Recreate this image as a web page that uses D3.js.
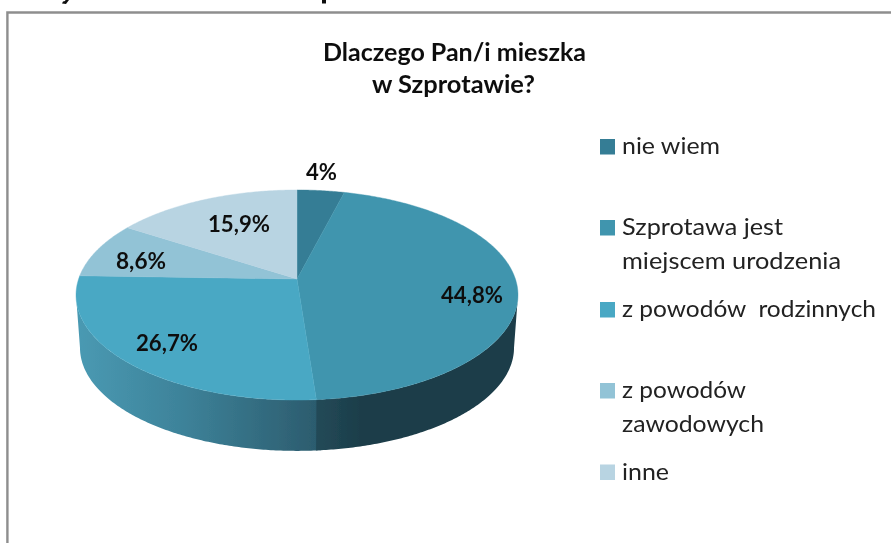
<!DOCTYPE html>
<html><head><meta charset="utf-8">
<script src="https://cdn.jsdelivr.net/npm/d3@7"></script>
<style>html,body{margin:0;padding:0;background:#fff;overflow:hidden}svg{display:block}text{font-family:Lato,"Noto Sans",sans-serif}</style>
</head><body><svg id="c" width="891" height="543"></svg>
<script>
const titleLines = ["Dlaczego Pan/i mieszka","w Szprotawie?"];
const categories = ["nie wiem","Szprotawa jest miejscem urodzenia","z powodów rodzinnych","z powodów zawodowych","inne"];
const values = [4,44.8,26.7,8.6,15.9];
const labels = ["4%","44,8%","26,7%","8,6%","15,9%"];
const colors = ["#347d95","#4095ae","#4aa8c4","#92c3d6","#b8d4e2"];
const legendLines = [["nie wiem"],["Szprotawa jest","miejscem urodzenia"],["z powodów  rodzinnych"],["z powodów","zawodowych"],["inne"]];

const svg = d3.select("#c");
const defs = svg.append("defs");
defs.append("filter").attr("id","soft").attr("x",0).attr("y",0)
  .attr("filterUnits","userSpaceOnUse").attr("width",891).attr("height",543)
  .append("feGaussianBlur").attr("stdDeviation",0.35);
const root = svg.append("g").attr("filter","url(#soft)");
root.append("rect").attr("width",891).attr("height",543).attr("fill","#fff");
// frame
root.append("path").attr("d","M7.4,543V12.5H891").attr("fill","none").attr("stroke","#8e8e8e").attr("stroke-width",2.4);
// slivers of the cropped line above the frame (illegible in the reference)
root.append("path").attr("d","M69,0L66,4L62,3.5L63,1.5L65,1L65.5,0Z").attr("fill","#111");
root.append("rect").attr("x",322).attr("y",0).attr("width",4).attr("height",3.5).attr("fill","#111");

// perspective projection of the pie disc
const cx=297, cy=279, a=218.4, b=102.6, k=0.1525;
const sx=d3.scaleLinear().domain([-1,1]).range([cx-a,cx+a]);
const sy=d3.scaleLinear().domain([-1,1]).range([cy+b,cy-b]);
function proj(t,scale=1,dy=0){
  const X=Math.sin(t),Y=Math.cos(t),w=1+k*Y;
  return [cx+(sx(X/w)-cx)*scale, cy+dy+(sy(Y/w)-cy)*scale];
}
const line=d3.line();
const pie=d3.pie().sort(null).value(d=>d)(values);
function rim(t0,t1,scale,dy){
  const n=Math.max(2,Math.ceil(Math.abs(t1-t0)/0.01)), out=[];
  for(let i=0;i<=n;i++) out.push(proj(t0+(t1-t0)*i/n,scale,dy));
  return out;
}
const depthScale=0.982, depthDy=53;
const rightT=Math.acos(-k), leftT=2*Math.PI-Math.acos(-k);

function grad(id,x1,x2,stops){
  const g=defs.append("linearGradient").attr("id",id).attr("gradientUnits","userSpaceOnUse")
    .attr("x1",x1).attr("x2",x2).attr("y1",0).attr("y2",0);
  stops.forEach(s=>g.append("stop").attr("offset",s[0]).attr("stop-color",s[1]));
}
grad("sideA",316,520,[[0,"#234a58"],[0.25,"#1b3c48"],[1,"#1b3c48"]]);
grad("sideB",76,316,[[0,"#4a9ab3"],[0.45,"#3d8299"],[1,"#2c5c6e"]]);
const walls=[
  {t0:pie[1].endAngle,t1:leftT,fill:"url(#sideB)"},
  {t0:rightT,t1:pie[1].endAngle,fill:"url(#sideA)"}
];
walls.forEach((w,i)=>{
  // the first wall runs slightly under the second so no light seam shows between them
  const t0=i===0?w.t0-0.02:w.t0;
  const top=rim(t0,w.t1,1,0), bot=rim(w.t1,t0,depthScale,depthDy);
  root.append("path").attr("d",line(top.concat(bot))+"Z").attr("fill",w.fill);
});
// top faces
pie.forEach((d,i)=>{
  const pts=[[cx,cy]].concat(rim(d.startAngle,d.endAngle,1,0));
  root.append("path").attr("d",line(pts)+"Z").attr("fill",colors[i]).attr("stroke",colors[i]).attr("stroke-width",0.4);
});
// data labels
const labelPos=[[321.5,180],[472,303],[167,351],[141,269],[239,232]];
const labelW=[31,62,62,50,62];
labels.forEach((t,i)=>root.append("text").attr("x",labelPos[i][0]-labelW[i]/2).attr("y",labelPos[i][1])
  .attr("font-size",22).attr("font-weight",700).attr("fill","#111")
  .attr("textLength",labelW[i]).attr("lengthAdjust","spacingAndGlyphs").text(t));
// title
const titleX=[323,372], titleW=[263,163], titleY=[61,93];
titleLines.forEach((t,i)=>root.append("text").attr("x",titleX[i]).attr("y",titleY[i])
  .attr("font-size",25).attr("font-weight",700).attr("fill","#111")
  .attr("textLength",titleW[i]).attr("lengthAdjust","spacingAndGlyphs").text(t));
// legend
const legendTop=[139,220,302,383,464.5];
const legendW=[[98],[161,219],[254],[124,142],[47]];
categories.forEach((c,i)=>{
  root.append("rect").attr("x",600).attr("y",legendTop[i]).attr("width",15).attr("height",15.5).attr("fill",colors[i]);
  legendLines[i].forEach((l,j)=>root.append("text").attr("x",622).attr("y",legendTop[i]+15+j*33.7)
    .attr("font-size",24).attr("fill","#222").style("white-space","pre")
    .attr("textLength",legendW[i][j]).attr("lengthAdjust","spacingAndGlyphs").text(l));
});
</script></body></html>
